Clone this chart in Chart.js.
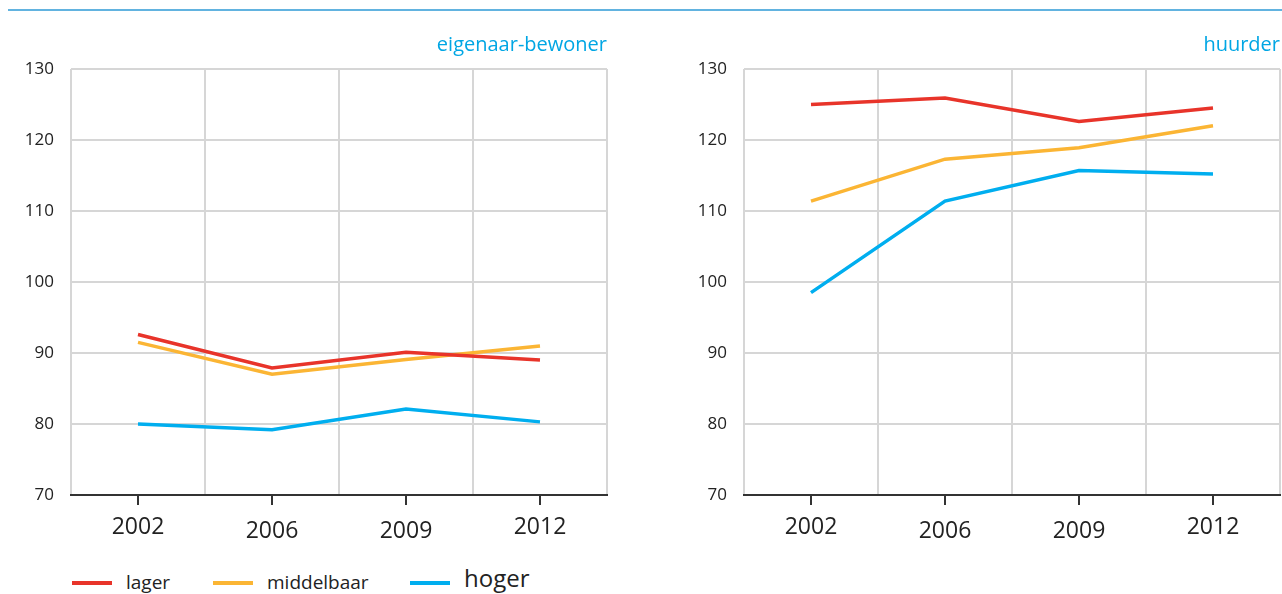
<!DOCTYPE html>
<html>
<head>
<meta charset="utf-8">
<script src="https://cdn.jsdelivr.net/npm/chart.js@4/dist/chart.umd.min.js"></script>
<style>
  html, body { margin: 0; padding: 0; background: #fff; overflow: hidden; }
  body { width: 1282px; height: 594px; position: relative; font-family: "Open Sans", sans-serif; }
  .topline { position: absolute; left: 8px; top: 9px; width: 1274px; height: 2px; background: #62b3e0; }
  .panel { position: absolute; top: 0; width: 640px; height: 560px; }
  #legend { position: absolute; left: 72px; top: 568px; height: 28px; color: #222; }
  #legend .item { position: absolute; top: 0; white-space: nowrap; }
  #legend .swatch { position: absolute; top: 13px; width: 40px; height: 4px; }
  #legend .lbl { position: absolute; left: 54px; top: 1px; font-size: 19px; line-height: 26px; }
</style>
</head>
<body>
<div class="topline"></div>
<div class="panel" style="left:0px"><canvas id="ownerChart"></canvas></div>
<div class="panel" style="left:673px"><canvas id="renterChart"></canvas></div>
<div id="legend"></div>

<script>
// values (index numbers)
const years = ['2002', '2006', '2009', '2012'];

const ownerLager = [92.6, 87.9, 90.1, 89.0];
const ownerMiddelbaar = [91.5, 87.0, 89.1, 91.0];
const ownerHoger = [80.0, 79.2, 82.1, 80.3];

const renterLager = [125.0, 125.9, 122.6, 124.5];
const renterMiddelbaar = [111.4, 117.3, 118.9, 122.0];
const renterHoger = [98.5, 111.4, 115.7, 115.2];

const seriesNames = ['lager', 'middelbaar', 'hoger'];
const seriesColors = ['#e8342a', '#fbb534', '#00aeef'];

const yMin = 70;
const yMax = 130;
const yStep = 10;

// small tick marks under the axis at every year
const tickMarks = {
    id: 'tickMarks',
    afterDraw(chart) {
        const x = chart.scales.x;
        const ctx = chart.ctx;
        ctx.save();
        ctx.strokeStyle = '#333';
        ctx.lineWidth = 2;
        years.forEach((y, i) => {
            const px = Math.round(x.getPixelForValue(i));
            ctx.beginPath();
            ctx.moveTo(px, chart.chartArea.bottom);
            ctx.lineTo(px, chart.chartArea.bottom + 10);
            ctx.stroke();
        });
        ctx.restore();
    }
};

function makeChart(canvasId, title, lager, middelbaar, hoger) {
    const ctx = document.getElementById(canvasId).getContext('2d');
    const values = [lager, middelbaar, hoger];
    return new Chart(ctx, {
        type: 'line',
        data: {
            labels: years,
            datasets: seriesNames.map((name, i) => ({
                label: name,
                data: values[i],
                borderColor: seriesColors[i],
                backgroundColor: seriesColors[i],
                borderWidth: 3.5,
                pointRadius: 0,
                tension: 0
            }))
        },
        options: {
            responsive: false,
            animation: false,
            layout: { padding: { top: 0, right: 33, bottom: 0, left: 0 } },
            plugins: {
                legend: { display: false },
                tooltip: { enabled: false },
                title: {
                    display: true,
                    text: title,
                    align: 'end',
                    color: '#00a6e4',
                    font: { family: 'Open Sans', size: 20, weight: 'normal', lineHeight: 1.2 },
                    padding: { top: 33, bottom: 12 }
                }
            },
            scales: {
                x: {
                    offset: true,
                    grid: { offset: true, color: '#d6d6d6', lineWidth: 2, drawTicks: false },
                    border: { display: true, color: '#333', width: 2 },
                    ticks: {
                        color: '#222',
                        padding: 19,
                        maxRotation: 0,
                        font: (c) => ({
                            family: 'Open Sans',
                            size: 23,
                            lineHeight: (c.index === 1 || c.index === 2) ? 1.5 : 1.15
                        })
                    },
                    afterFit: (scale) => { scale.height = 65; }
                },
                y: {
                    min: yMin,
                    max: yMax,
                    grid: { color: '#d6d6d6', lineWidth: 2, drawTicks: false },
                    border: { display: false },
                    ticks: {
                        stepSize: yStep,
                        color: '#222',
                        padding: 17,
                        font: { family: 'Open Sans', size: 17 }
                    },
                    afterFit: (scale) => { scale.width = 71; }
                }
            }
        },
        plugins: [tickMarks]
    });
}

document.getElementById('ownerChart').width = 640;
document.getElementById('ownerChart').height = 560;
document.getElementById('renterChart').width = 640;
document.getElementById('renterChart').height = 560;

makeChart('ownerChart', 'eigenaar-bewoner', ownerLager, ownerMiddelbaar, ownerHoger);
makeChart('renterChart', 'huurder', renterLager, renterMiddelbaar, renterHoger);

// legend under the left panel
const legendLeft = [0, 141, 338];
const legendSizes = [19, 19, 24];
const legend = document.getElementById('legend');
seriesNames.forEach((name, i) => {
    const item = document.createElement('div');
    item.className = 'item';
    item.style.left = legendLeft[i] + 'px';
    item.innerHTML = '<div class="swatch" style="background:' + seriesColors[i] + '"></div>' +
        '<div class="lbl" style="font-size:' + legendSizes[i] + 'px;' + (i === 2 ? 'top:-3px;' : '') + '">' + name + '</div>';
    legend.appendChild(item);
});
</script>
</body>
</html>
